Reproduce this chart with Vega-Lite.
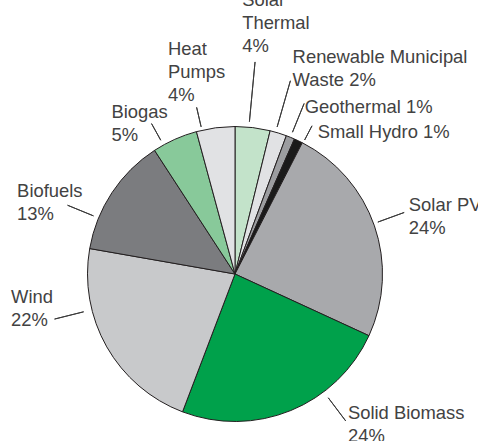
{
  "$schema": "https://vega.github.io/schema/vega-lite/v6.json",
  "width": 296,
  "height": 296,
  "autosize": {"type": "none"},
  "padding": {"left": 87, "top": 126, "right": 95, "bottom": 19},
  "background": "white",
  "config": {
    "view": {"stroke": null},
    "text": {"font": "Liberation Sans", "fontSize": 18.4, "fill": "#424242", "align": "left", "baseline": "alphabetic", "lineBreak": "\n", "lineHeight": 23},
    "arc": {"fill": "transparent", "stroke": "#3a3a3a", "strokeWidth": 1}
  },
  "data": {
    "values": [
      {"category": "Solar Thermal", "value": 3.83, "label": "Solar\nThermal\n4%"},
      {"category": "Renewable Municipal Waste", "value": 1.83, "label": "Renewable Municipal\nWaste 2%"},
      {"category": "Geothermal", "value": 0.94, "label": "Geothermal 1%"},
      {"category": "Small Hydro", "value": 0.94, "label": "Small Hydro 1%"},
      {"category": "Solar PV", "value": 24.33, "label": "Solar PV\n24%"},
      {"category": "Solid Biomass", "value": 23.92, "label": "Solid Biomass\n24%"},
      {"category": "Wind", "value": 21.97, "label": "Wind\n22%"},
      {"category": "Biofuels", "value": 13.06, "label": "Biofuels\n13%"},
      {"category": "Biogas", "value": 4.97, "label": "Biogas\n5%"},
      {"category": "Heat Pumps", "value": 4.21, "label": "Heat\nPumps\n4%"}
    ]
  },
  "transform": [
    {"window": [{"op": "row_number", "as": "rank"}]},
    {"window": [{"op": "sum", "field": "value", "as": "cum"}], "sort": [{"field": "rank"}], "frame": [null, 0]},
    {"calculate": "datum.cum - datum.value / 2", "as": "mid"}
  ],
  "layer": [
    {
      "mark": {"type": "arc", "outerRadius": 147.5, "stroke": "#231f20", "strokeWidth": 1},
      "encoding": {
        "theta": {"field": "value", "type": "quantitative", "stack": true},
        "order": {"field": "rank", "type": "quantitative"},
        "color": {
          "field": "category", "type": "nominal", "legend": null,
          "scale": {
            "domain": ["Solar Thermal", "Renewable Municipal Waste", "Geothermal", "Small Hydro", "Solar PV", "Solid Biomass", "Wind", "Biofuels", "Biogas", "Heat Pumps"],
            "range": ["#c3e3ca", "#e1e2e4", "#9c9da0", "#1a1a1a", "#a8a9ac", "#00a14b", "#c8c9cb", "#7b7c7f", "#88c99a", "#e1e2e4"]
          }
        }
      }
    },
    {"transform": [{"filter": {"field": "category", "equal": "Solar Thermal"}}], "mark": {"type": "arc", "radius": 213, "radius2": 153, "thetaOffset": -0.026, "theta2Offset": -0.026}, "encoding": {"theta": {"field": "mid", "type": "quantitative", "stack": null}, "theta2": {"field": "mid"}}},
    {"transform": [{"filter": {"field": "category", "equal": "Renewable Municipal Waste"}}], "mark": {"type": "arc", "radius": 201, "radius2": 153, "thetaOffset": -0.019, "theta2Offset": -0.019}, "encoding": {"theta": {"field": "mid", "type": "quantitative", "stack": null}, "theta2": {"field": "mid"}}},
    {"transform": [{"filter": {"field": "category", "equal": "Geothermal"}}], "mark": {"type": "arc", "radius": 184, "radius2": 153}, "encoding": {"theta": {"field": "mid", "type": "quantitative", "stack": null}, "theta2": {"field": "mid"}}},
    {"transform": [{"filter": {"field": "category", "equal": "Small Hydro"}}], "mark": {"type": "arc", "radius": 167, "radius2": 151, "thetaOffset": 0.035, "theta2Offset": 0.035}, "encoding": {"theta": {"field": "mid", "type": "quantitative", "stack": null}, "theta2": {"field": "mid"}}},
    {"transform": [{"filter": {"field": "category", "equal": "Solar PV"}}], "mark": {"type": "arc", "radius": 180, "radius2": 152, "thetaOffset": -0.016, "theta2Offset": -0.016}, "encoding": {"theta": {"field": "mid", "type": "quantitative", "stack": null}, "theta2": {"field": "mid"}}},
    {"transform": [{"filter": {"field": "category", "equal": "Solid Biomass"}}], "mark": {"type": "arc", "radius": 184, "radius2": 155, "thetaOffset": -0.258, "theta2Offset": -0.258}, "encoding": {"theta": {"field": "mid", "type": "quantitative", "stack": null}, "theta2": {"field": "mid"}}},
    {"transform": [{"filter": {"field": "category", "equal": "Wind"}}], "mark": {"type": "arc", "radius": 186, "radius2": 156, "thetaOffset": 0.272, "theta2Offset": 0.272}, "encoding": {"theta": {"field": "mid", "type": "quantitative", "stack": null}, "theta2": {"field": "mid"}}},
    {"transform": [{"filter": {"field": "category", "equal": "Biofuels"}}], "mark": {"type": "arc", "radius": 181, "radius2": 153, "thetaOffset": -0.194, "theta2Offset": -0.194}, "encoding": {"theta": {"field": "mid", "type": "quantitative", "stack": null}, "theta2": {"field": "mid"}}},
    {"transform": [{"filter": {"field": "category", "equal": "Biogas"}}], "mark": {"type": "arc", "radius": 172, "radius2": 153, "thetaOffset": -0.086, "theta2Offset": -0.086}, "encoding": {"theta": {"field": "mid", "type": "quantitative", "stack": null}, "theta2": {"field": "mid"}}},
    {"transform": [{"filter": {"field": "category", "equal": "Heat Pumps"}}], "mark": {"type": "arc", "radius": 171, "radius2": 151, "thetaOffset": -0.094, "theta2Offset": -0.094}, "encoding": {"theta": {"field": "mid", "type": "quantitative", "stack": null}, "theta2": {"field": "mid"}}},
    {"transform": [{"filter": {"field": "category", "equal": "Solar Thermal"}}], "mark": {"type": "text", "radius": 268, "dx": -25, "dy": -2}, "encoding": {"theta": {"field": "mid", "type": "quantitative", "stack": null}, "text": {"field": "label"}}},
    {"transform": [{"filter": {"field": "category", "equal": "Renewable Municipal Waste"}}], "mark": {"type": "text", "radius": 220, "dx": -7, "dy": -1}, "encoding": {"theta": {"field": "mid", "type": "quantitative", "stack": null}, "text": {"field": "label"}}},
    {"transform": [{"filter": {"field": "category", "equal": "Geothermal"}}], "mark": {"type": "text", "radius": 175, "dx": 4, "dy": 1}, "encoding": {"theta": {"field": "mid", "type": "quantitative", "stack": null}, "text": {"field": "label"}}},
    {"transform": [{"filter": {"field": "category", "equal": "Small Hydro"}}], "mark": {"type": "text", "radius": 160, "dx": 14, "dy": 8}, "encoding": {"theta": {"field": "mid", "type": "quantitative", "stack": null}, "text": {"field": "label"}}},
    {"transform": [{"filter": {"field": "category", "equal": "Solar PV"}}], "mark": {"type": "text", "radius": 185, "dx": -1, "dy": -3}, "encoding": {"theta": {"field": "mid", "type": "quantitative", "stack": null}, "text": {"field": "label"}}},
    {"transform": [{"filter": {"field": "category", "equal": "Solid Biomass"}}], "mark": {"type": "text", "radius": 185, "dx": 43, "dy": -26}, "encoding": {"theta": {"field": "mid", "type": "quantitative", "stack": null}, "text": {"field": "label"}}},
    {"transform": [{"filter": {"field": "category", "equal": "Wind"}}], "mark": {"type": "text", "radius": 200, "dx": -50, "dy": -70}, "encoding": {"theta": {"field": "mid", "type": "quantitative", "stack": null}, "text": {"field": "label"}}},
    {"transform": [{"filter": {"field": "category", "equal": "Biofuels"}}], "mark": {"type": "text", "radius": 200, "dx": -51, "dy": 33}, "encoding": {"theta": {"field": "mid", "type": "quantitative", "stack": null}, "text": {"field": "label"}}},
    {"transform": [{"filter": {"field": "category", "equal": "Biogas"}}], "mark": {"type": "text", "radius": 190, "dx": -46, "dy": 17}, "encoding": {"theta": {"field": "mid", "type": "quantitative", "stack": null}, "text": {"field": "label"}}},
    {"transform": [{"filter": {"field": "category", "equal": "Heat Pumps"}}], "mark": {"type": "text", "radius": 220, "dx": -38, "dy": -1}, "encoding": {"theta": {"field": "mid", "type": "quantitative", "stack": null}, "text": {"field": "label"}}}
  ]
}
